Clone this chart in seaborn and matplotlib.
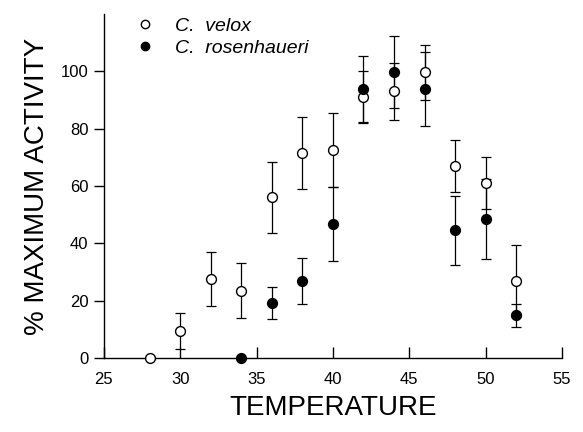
import numpy as np
import pandas as pd
import matplotlib
matplotlib.use('Agg')
import matplotlib.pyplot as plt
from matplotlib.lines import Line2D
import seaborn as sns

velox_temp = [28, 30, 32, 34, 36, 38, 40, 42, 44, 46, 48, 50, 52]
velox_act = [0, 9.4, 27.5, 23.5, 56, 71.5, 72.5, 91, 93, 99.6, 67, 61, 27]
velox_err = [0, 6.3, 9.5, 9.5, 12.5, 12.5, 13, 9, 10, 9.5, 9, 9, 12.5]

rosen_temp = [34, 36, 38, 40, 42, 44, 46, 48, 50, 52]
rosen_act = [0, 19.2, 27, 46.7, 93.7, 99.6, 93.7, 44.6, 48.4, 15]
rosen_err = [0, 5.7, 8, 13, 11.5, 12.5, 12.9, 12, 14, 4]

df = pd.concat([
    pd.DataFrame({'temp': velox_temp, 'act': velox_act, 'err': velox_err, 'species': 'C. velox'}),
    pd.DataFrame({'temp': rosen_temp, 'act': rosen_act, 'err': rosen_err, 'species': 'C. rosenhaueri'}),
])

sns.set_style('white', {'xtick.bottom': True, 'ytick.left': True,
                        'text.color': 'black', 'axes.labelcolor': 'black',
                        'xtick.color': 'black', 'ytick.color': 'black'})
plt.rcParams['font.family'] = ['Liberation Sans', 'DejaVu Sans']

fig = plt.figure(figsize=(5.83, 4.32), dpi=100)
ax = fig.add_axes([0.178, 0.171, 0.786, 0.797])

for sp, face in [('C. velox', 'white'), ('C. rosenhaueri', 'black')]:
    d = df[df.species == sp]
    nz = d[d.err > 0]
    ax.errorbar(nz.temp, nz.act, yerr=nz.err, fmt='none', ecolor='black',
                elinewidth=0.9, capsize=3.5, capthick=0.9, zorder=2)
    sns.scatterplot(data=d, x='temp', y='act', ax=ax, marker='o', s=50,
                    facecolor=face, edgecolor='black', linewidth=1.0,
                    zorder=3, clip_on=False, legend=False)

ax.set_xlim(25, 55)
ax.set_ylim(0, 120)
ax.set_xticks([25, 30, 35, 40, 45, 50, 55])
ax.set_yticks([0, 20, 40, 60, 80, 100])
sns.despine(ax=ax)
for s in ['left', 'bottom']:
    ax.spines[s].set_color('black')
    ax.spines[s].set_linewidth(1.0)
ax.tick_params(axis='x', direction='in', length=8, width=1, labelsize=12, pad=10)
ax.tick_params(axis='y', direction='out', length=7, width=1, labelsize=12, pad=4)
ax.set_xlabel('TEMPERATURE', fontsize=20, labelpad=6)
ax.set_ylabel('% MAXIMUM ACTIVITY', fontsize=20, labelpad=8)

handles = [
    Line2D([], [], marker='o', ls='none', markersize=6, markerfacecolor='white', markeredgecolor='black'),
    Line2D([], [], marker='o', ls='none', markersize=6, markerfacecolor='black', markeredgecolor='black'),
]
leg = ax.legend(handles, ['C.  velox', 'C.  rosenhaueri'], loc='upper left',
                bbox_to_anchor=(0.02, 1.04), frameon=False, fontsize=14,
                handletextpad=0.8, labelspacing=0.2, handlelength=1.5)
for t in leg.get_texts():
    t.set_style('italic')

fig.savefig('out.png', dpi=100)
